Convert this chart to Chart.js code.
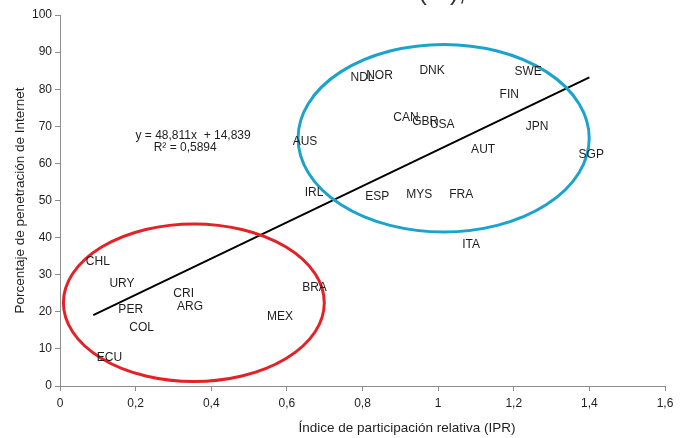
<!DOCTYPE html>
<html>
<head>
<meta charset="utf-8">
<script src="https://cdn.jsdelivr.net/npm/chart.js@4"></script>
<style>
  html, body { margin: 0; padding: 0; background: #fff; }
  #wrap { width: 684px; height: 438px; }
</style>
</head>
<body>
<div id="wrap"><canvas id="ipr"></canvas></div>
<script>
// Países y valores (IPR, % penetración de Internet)
const countries = ['NDL', 'NOR', 'DNK', 'SWE', 'FIN', 'CAN', 'GBR', 'USA', 'JPN', 'AUS', 'AUT', 'SGP',
    'IRL', 'ESP', 'MYS', 'FRA', 'ITA',
    'CHL', 'URY', 'PER', 'COL', 'ECU', 'CRI', 'ARG', 'MEX', 'BRA'];
const iprValues = [0.80, 0.845, 0.984, 1.238, 1.188, 0.915, 0.966, 1.011, 1.262, 0.648, 1.119, 1.405,
    0.672, 0.839, 0.950, 1.061, 1.087,
    0.100, 0.164, 0.187, 0.216, 0.131, 0.327, 0.344, 0.582, 0.673];
const internetValues = [83.1, 83.6, 84.9, 84.6, 78.4, 72.4, 71.3, 70.5, 69.9, 65.9, 63.6, 62.4,
    52.2, 51.1, 51.6, 51.6, 38.2,
    33.6, 27.6, 20.7, 15.6, 7.7, 24.9, 21.3, 18.8, 26.4];

// Línea de tendencia (extremos)
const trendX = [0.088, 1.40];
const trendY = [19.1, 83.2];

// Elipses que agrupan los países: centro y radios en unidades de los ejes
const ellipseNames = ['altos', 'latam'];
const ellipseCx = [1.0146, 0.354];
const ellipseCy = [66.8, 22.45];
const ellipseRx = [0.385, 0.345];
const ellipseRy = [25.27, 21.24];
const ellipseColors = ['#1ca3cc', '#e32228'];

const xTicks = [0, 0.2, 0.4, 0.6, 0.8, 1, 1.2, 1.4, 1.6];
const yTicks = [0, 10, 20, 30, 40, 50, 60, 70, 80, 90, 100];

const xTitle = 'Índice de participación relativa (IPR)';
const yTitle = 'Porcentaje de penetración de Internet';

const FONT = 'Liberation Sans, Arial, sans-serif';
const TEXT = '#1e1e1e';
const AXIS = '#8c8c8c';

const fmtComma = (v) => String(v).replace('.', ',');

const points = countries.map((c, i) => ({ x: iprValues[i], y: internetValues[i] }));
const trend = trendX.map((x, i) => ({ x: x, y: trendY[i] }));

const overlay = {
    id: 'overlay',
    afterDatasetsDraw(chart) {
        const c = chart.ctx;
        const xs = chart.scales.x;
        const ys = chart.scales.y;

        // elipses
        ellipseNames.forEach((n, i) => {
            const cx = xs.getPixelForValue(ellipseCx[i]);
            const cy = ys.getPixelForValue(ellipseCy[i]);
            const rx = xs.getPixelForValue(ellipseCx[i] + ellipseRx[i]) - cx;
            const ry = cy - ys.getPixelForValue(ellipseCy[i] + ellipseRy[i]);
            c.save();
            c.beginPath();
            c.ellipse(cx, cy, rx, ry, 0, 0, Math.PI * 2);
            c.lineWidth = 3;
            c.strokeStyle = ellipseColors[i];
            c.stroke();
            c.restore();
        });

        // etiquetas de los países
        const meta = chart.getDatasetMeta(0);
        c.save();
        c.font = '12px ' + FONT;
        c.fillStyle = TEXT;
        c.textAlign = 'center';
        c.textBaseline = 'middle';
        meta.data.forEach((pt, i) => {
            c.fillText(countries[i], pt.x, pt.y);
        });

        // ecuación de la tendencia
        c.fillText('y = 48,811x  + 14,839', xs.getPixelForValue(0.352), ys.getPixelForValue(67.4));
        c.fillText('R² = 0,5894', xs.getPixelForValue(0.331), ys.getPixelForValue(64.3));

        // título del eje X (descentrado como en el original)
        c.font = '13.5px ' + FONT;
        c.fillText(xTitle, 407, 428);

        // resto del título, cortado por el borde superior
        c.font = '26px ' + FONT;
        c.fillStyle = '#333';
        c.textBaseline = 'alphabetic';
        c.fillText('(%),', 442, 0);
        c.restore();
    }
};

new Chart(document.getElementById('ipr'), {
    type: 'scatter',
    data: {
        datasets: [
            {
                label: 'Países',
                data: points,
                pointRadius: 0,
                pointHoverRadius: 0,
                showLine: false
            },
            {
                label: 'Tendencia',
                data: trend,
                showLine: true,
                borderColor: '#000',
                borderWidth: 2,
                pointRadius: 0,
                fill: false
            }
        ]
    },
    options: {
        responsive: true,
        maintainAspectRatio: false,
        animation: false,
        events: [],
        layout: { padding: { left: 0, right: 19, top: 15, bottom: 0 } },
        plugins: {
            legend: { display: false },
            tooltip: { enabled: false }
        },
        scales: {
            x: {
                type: 'linear',
                min: 0,
                max: 1.6,
                afterBuildTicks: (axis) => { axis.ticks = xTicks.map(v => ({ value: v })); },
                afterFit: (axis) => { axis.height = 52; },
                border: { color: AXIS, width: 1 },
                grid: { drawOnChartArea: false, drawTicks: true, tickLength: 5, color: AXIS },
                ticks: {
                    color: TEXT,
                    font: { family: FONT, size: 12 },
                    padding: 5,
                    maxRotation: 0,
                    callback: (v) => fmtComma(v)
                },
                title: { display: false }
            },
            y: {
                type: 'linear',
                min: 0,
                max: 100,
                afterBuildTicks: (axis) => { axis.ticks = yTicks.map(v => ({ value: v })); },
                afterFit: (axis) => { axis.width = 60; },
                border: { color: AXIS, width: 1 },
                grid: { drawOnChartArea: false, drawTicks: true, tickLength: 5, color: AXIS },
                ticks: {
                    color: TEXT,
                    font: { family: FONT, size: 12 },
                    padding: 3
                },
                title: {
                    display: true,
                    text: yTitle,
                    color: TEXT,
                    font: { family: FONT, size: 13.5 },
                    padding: { top: 12, bottom: 0 }
                }
            }
        }
    },
    plugins: [overlay]
});
</script>
</body>
</html>
